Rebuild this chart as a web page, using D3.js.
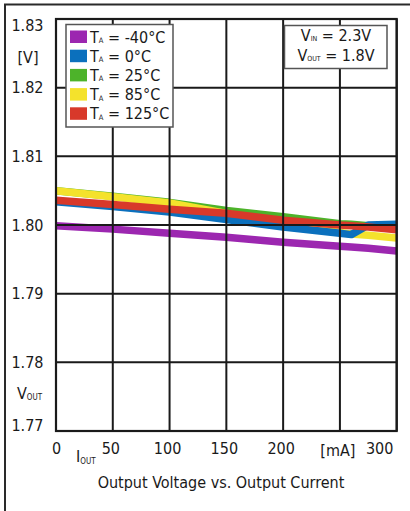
<!DOCTYPE html>
<html>
<head>
<meta charset="utf-8">
<script src="https://cdn.jsdelivr.net/npm/d3@7"></script>
<style>
  html, body { margin: 0; padding: 0; background: #fff; }
  svg { display: block; }
  text { font-family: "DejaVu Sans Condensed", "DejaVu Sans", sans-serif; font-stretch: condensed; fill: #1a1a1a; white-space: pre; }
</style>
</head>
<body>
<svg id="chart" width="410" height="511"></svg>
<script>
// ---- data ----
const currents = [0, 50, 100, 150, 200, 250, 260, 275, 300];
const vM40 = [1.7999, 1.7994, 1.7988, 1.7982, 1.7975, 1.7969, 1.7968, 1.7966, 1.7962];
const v0   = [1.8034, 1.8027, 1.8019, 1.8008, 1.7997, 1.7988, 1.7986, 1.8000, 1.8001];
const v25  = [1.8050, 1.8042, 1.8033, 1.8021, 1.8012, 1.8002, 1.8001, 1.7999, 1.7995];
const v85  = [1.8050, 1.8041, 1.8032, 1.8017, 1.8001, 1.7989, 1.7987, 1.7985, 1.7981];
const v125 = [1.8036, 1.8030, 1.8023, 1.8017, 1.8007, 1.8000, 1.7999, 1.7997, 1.7993];

const legendTemps = ["-40°C", "0°C", "25°C", "85°C", "125°C"];
const seriesColors = ["#9c27b0", "#0b70bd", "#4db32a", "#f4e22c", "#d8392a"];
const seriesValues = [vM40, v0, v25, v85, v125];
const drawOrder = [0, 2, 3, 1, 4];

const yTicks = [1.77, 1.78, 1.79, 1.80, 1.81, 1.82, 1.83];
const yTickLabels = ["1.77", "1.78", "1.79", "1.80", "1.81", "1.82", "1.83"];
const xTicks = [0, 50, 100, 150, 200, 250, 300];
const xTickLabels = ["0", "50", "100", "150", "200", "[mA]", "300"];
const title = "Output Voltage vs. Output Current";

// ---- layout ----
const svg = d3.select("#chart");
const L = 56, R = 396.7, T = 19, B = 431;
const x = d3.scaleLinear().domain([0, 300]).range([L, R]);
const y = d3.scaleLinear().domain([1.77, 1.83]).range([B, T]);

// outer frame (open at right/bottom)
svg.append("path").attr("d", "M5,511 V4.5 H410").attr("fill", "none")
  .attr("stroke", "#2a2a2a").attr("stroke-width", 2);

// series
const line = d3.line().x((d, i) => x(currents[i])).y(d => y(d));
const gLines = svg.append("g");
drawOrder.forEach(k => {
  gLines.append("path").datum(seriesValues[k])
    .attr("d", line).attr("fill", "none")
    .attr("stroke", seriesColors[k]).attr("stroke-width", 7.5)
    .attr("stroke-linejoin", "round");
});

// grid (drawn over series)
const gGrid = svg.append("g").attr("stroke", "#1a1a1a").attr("stroke-width", 2);
yTicks.forEach(v => {
  gGrid.append("line").attr("x1", L).attr("x2", R).attr("y1", y(v)).attr("y2", y(v));
});
xTicks.forEach(v => {
  gGrid.append("line").attr("x1", x(v)).attr("x2", x(v)).attr("y1", T).attr("y2", B);
});
svg.append("rect").attr("x", L).attr("y", T).attr("width", R - L).attr("height", B - T)
  .attr("fill", "none").attr("stroke", "#1a1a1a").attr("stroke-width", 2.2);

// y tick labels
const yShift = {"1.83": 6.5, "1.77": -6};
yTicks.forEach((v, i) => {
  const lab = yTickLabels[i];
  svg.append("text").attr("x", 43.5).attr("y", y(v) + 5.8 + (yShift[lab] || 0))
    .attr("text-anchor", "end").attr("font-size", 16).text(lab);
});
svg.append("text").attr("x", 28).attr("y", 63).attr("text-anchor", "middle")
  .attr("font-size", 16).text("[V]");
const vout = svg.append("text").attr("x", 17).attr("y", 399).attr("font-size", 16);
vout.append("tspan").text("V");
vout.append("tspan").attr("font-size", 8).attr("dy", 1).text("OUT");

// x tick labels
const xShift = {"0": 2.7, "300": -15};
xTicks.forEach((v, i) => {
  const lab = xTickLabels[i];
  svg.append("text").attr("x", x(v) - 2 + (xShift[lab] || 0)).attr("y", lab === "[mA]" ? 456 : 453.5)
    .attr("text-anchor", "middle").attr("font-size", 16).text(lab);
});
const iout = svg.append("text").attr("x", 76).attr("y", 461.5).attr("font-size", 16);
iout.append("tspan").text("I");
iout.append("tspan").attr("font-size", 8).attr("dy", 2).text("OUT");

svg.append("text").attr("x", 221).attr("y", 487.5).attr("text-anchor", "middle")
  .attr("font-size", 16).text(title);

// legend
const lg = svg.append("g");
lg.append("rect").attr("x", 66).attr("y", 24.5).attr("width", 107).attr("height", 102.5)
  .attr("fill", "#fff").attr("stroke", "#555").attr("stroke-width", 1.5);
legendTemps.forEach((t, i) => {
  const cy = 36.5 + i * 19.2;
  lg.append("rect").attr("x", 70).attr("y", cy - 6).attr("width", 17).attr("height", 12.5)
    .attr("fill", seriesColors[i]);
  const tx = lg.append("text").attr("x", 90).attr("y", cy + 6).attr("font-size", 16);
  tx.append("tspan").text("T");
  tx.append("tspan").attr("font-size", 7.5).attr("dy", 0.5).text("A");
  tx.append("tspan").attr("dy", -0.5).text(" = " + t);
});

// conditions box
const cb = svg.append("g");
cb.append("rect").attr("x", 284.5).attr("y", 25.5).attr("width", 102.5).attr("height", 43)
  .attr("fill", "#fff").attr("stroke", "#555").attr("stroke-width", 1.5);
const c1 = cb.append("text").attr("x", 336).attr("y", 40.5).attr("text-anchor", "middle").attr("font-size", 16);
c1.append("tspan").text("V");
c1.append("tspan").attr("font-size", 7).attr("dy", 0.5).text("IN");
c1.append("tspan").attr("dy", -0.5).text(" = 2.3V");
const c2 = cb.append("text").attr("x", 336).attr("y", 60.5).attr("text-anchor", "middle").attr("font-size", 16);
c2.append("tspan").text("V");
c2.append("tspan").attr("font-size", 7).attr("dy", 0.5).text("OUT");
c2.append("tspan").attr("dy", -0.5).text(" = 1.8V");
</script>
</body>
</html>
